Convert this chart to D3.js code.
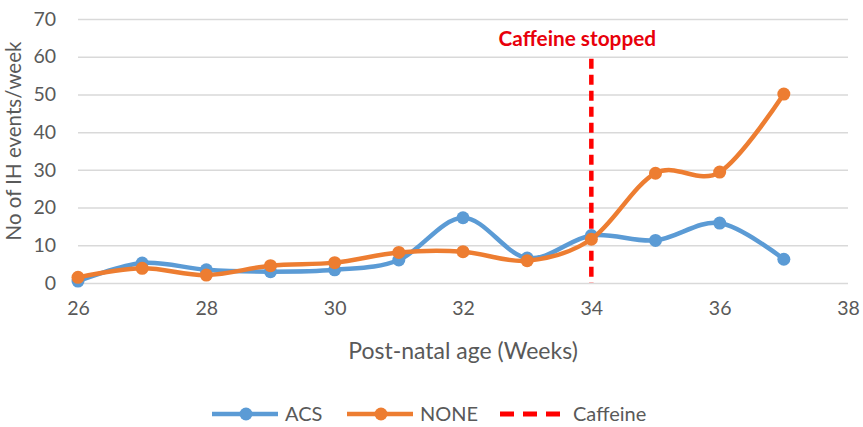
<!DOCTYPE html>
<html>
<head>
<meta charset="utf-8">
<script src="https://cdn.jsdelivr.net/npm/d3@7"></script>
<style>
  body { margin: 0; background: #fff; }
  svg text { font-family: Lato, "Open Sans", sans-serif; }
</style>
</head>
<body>
<div id="chart"></div>
<script>
// chart data
const weeks = [26, 27, 28, 29, 30, 31, 32, 33, 34, 35, 36, 37];
const acs = [0.5, 5.3, 3.5, 3, 3.5, 6.1, 17.3, 6.6, 12.6, 11.3, 15.9, 6.3];
const none = [1.5, 3.9, 2.1, 4.6, 5.4, 8.1, 8.3, 5.9, 11.6, 29.1, 29.4, 50.1];
const xTicks = [26, 28, 30, 32, 34, 36, 38];
const yTicks = [0, 10, 20, 30, 40, 50, 60, 70];
const caffeineWeek = 34;
const caffeineTop = 60;

let width = 863,
    height = 427;
let margin = {left: 78, right: 15, top: 19, bottom: 144};

let svg = d3.select('#chart')
    .append('svg')
    .attr('width', width)
    .attr('height', height);

let x = d3.scaleLinear()
    .domain([26, 38])
    .range([margin.left, width - margin.right]);
let y = d3.scaleLinear()
    .domain([0, 70])
    .range([height - margin.bottom, margin.top]);

//gridlines + y labels
let yAxis = svg.append('g')
    .attr('transform', `translate(${margin.left},0)`)
    .call(d3.axisLeft(y).tickValues(yTicks).tickSize(-(width - margin.left - margin.right)).tickPadding(22));
yAxis.select('.domain').remove();
yAxis.selectAll('line').attr('stroke', '#d9d9d9').attr('stroke-width', 1.5);
yAxis.selectAll('text')
    .attr('fill', '#595959')
    .style('font-size', '19.5px');

//x labels
let xAxis = svg.append('g')
    .attr('transform', `translate(0,${y(0)})`)
    .call(d3.axisBottom(x).tickValues(xTicks).tickSize(0).tickPadding(18));
xAxis.select('.domain').remove();
xAxis.selectAll('text')
    .attr('fill', '#595959')
    .style('font-size', '19.5px');

//axis titles
svg.append('text')
    .attr('x', (margin.left + width - margin.right) / 2)
    .attr('y', 359)
    .attr('text-anchor', 'middle')
    .attr('fill', '#595959')
    .style('font-size', '23px')
    .text('Post-natal age (Weeks)');
svg.append('text')
    .attr('transform', 'translate(21,141) rotate(-90)')
    .attr('text-anchor', 'middle')
    .attr('fill', '#595959')
    .style('font-size', '20.5px')
    .text('No of IH events/week');

//caffeine line
svg.append('line')
    .attr('x1', x(caffeineWeek)).attr('x2', x(caffeineWeek))
    .attr('y1', y(caffeineTop) + 2).attr('y2', y(0))
    .attr('stroke', '#ff0000')
    .attr('stroke-width', 4.5)
    .attr('stroke-dasharray', '10,6');
svg.append('text')
    .attr('x', x(caffeineWeek) - 14)
    .attr('y', 46)
    .attr('text-anchor', 'middle')
    .attr('fill', '#e8000b')
    .style('font-size', '20.8px')
    .style('font-weight', 'bold')
    .text('Caffeine stopped');

//series
let line = d3.line()
    .x((d, i) => x(weeks[i]))
    .y(d => y(d))
    .curve(d3.curveCatmullRom.alpha(0));

let series = [
    {name: 'ACS', values: acs, color: '#5b9bd5'},
    {name: 'NONE', values: none, color: '#ed7d31'}
];

series.forEach(s => {
    svg.append('path')
        .attr('d', line(s.values))
        .attr('fill', 'none')
        .attr('stroke', s.color)
        .attr('stroke-width', 4.5)
        .attr('stroke-linejoin', 'round');
    svg.selectAll(null)
        .data(s.values)
        .enter()
        .append('circle')
        .attr('cx', (d, i) => x(weeks[i]))
        .attr('cy', d => y(d))
        .attr('r', 6.5)
        .attr('fill', s.color);
});

//legend
let legend = svg.append('g').attr('transform', 'translate(0,414)');
let items = [
    {name: 'ACS', color: '#5b9bd5', x0: 212, dashed: false},
    {name: 'NONE', color: '#ed7d31', x0: 347, dashed: false},
    {name: 'Caffeine', color: '#ff0000', x0: 500, dashed: true}
];
items.forEach(it => {
    legend.append('line')
        .attr('x1', it.x0).attr('x2', it.x0 + 66)
        .attr('y1', 0).attr('y2', 0)
        .attr('stroke', it.color)
        .attr('stroke-width', it.dashed ? 5 : 4.5)
        .attr('stroke-dasharray', it.dashed ? '14,9' : null);
    if (!it.dashed) {
        legend.append('circle')
            .attr('cx', it.x0 + 34).attr('cy', 0).attr('r', 6.5)
            .attr('fill', it.color);
    }
    legend.append('text')
        .attr('x', it.x0 + 73)
        .attr('y', 7)
        .attr('fill', '#595959')
        .style('font-size', '20px')
        .text(it.name);
});
</script>
</body>
</html>
